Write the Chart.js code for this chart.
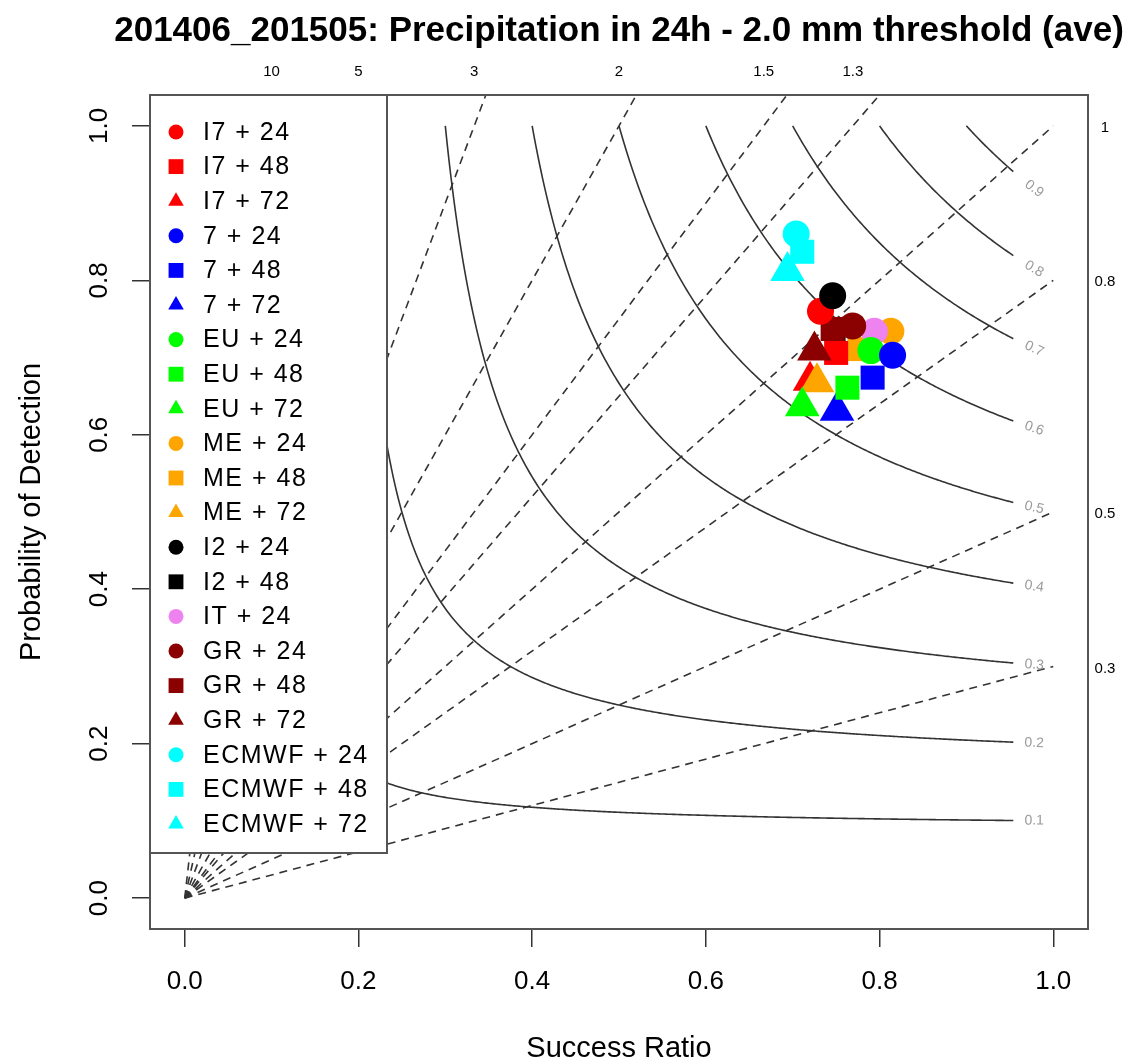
<!DOCTYPE html>
<html>
<head>
<meta charset="utf-8">
<script src="https://cdn.jsdelivr.net/npm/chart.js@4.4.1/dist/chart.umd.min.js"></script>
<style>
  body { margin: 0; background: #fff; }
  #wrap { width: 1127px; height: 1063px; position: relative; }
</style>
</head>
<body>
<div id="wrap"><canvas id="perfDiagram"></canvas></div>
<script>
// values
const seriesLabels = ['I7 + 24', 'I7 + 48', 'I7 + 72', '7 + 24', '7 + 48', '7 + 72',
  'EU + 24', 'EU + 48', 'EU + 72', 'ME + 24', 'ME + 48', 'ME + 72',
  'I2 + 24', 'I2 + 48', 'IT + 24', 'GR + 24', 'GR + 48', 'GR + 72',
  'ECMWF + 24', 'ECMWF + 48', 'ECMWF + 72'];
const seriesModel = ['I7', 'I7', 'I7', '7', '7', '7', 'EU', 'EU', 'EU', 'ME', 'ME', 'ME',
  'I2', 'I2', 'IT', 'GR', 'GR', 'GR', 'ECMWF', 'ECMWF', 'ECMWF'];
const seriesLead = [24, 48, 72, 24, 48, 72, 24, 48, 72, 24, 48, 72, 24, 48, 24, 24, 48, 72, 24, 48, 72];
const successRatio = [0.732, 0.750, 0.720, 0.815, 0.792, 0.751, 0.790, 0.763, 0.711, 0.813, 0.777, 0.728,
  0.746, 0.747, 0.794, 0.769, 0.746, 0.725, 0.704, 0.711, 0.694];
const probDetection = [0.760, 0.706, 0.670, 0.703, 0.674, 0.631, 0.709, 0.661, 0.637, 0.734, 0.711, 0.668,
  0.780, 0.737, 0.734, 0.741, 0.737, 0.709, 0.860, 0.837, 0.812];

const csiLevels = [0.1, 0.2, 0.3, 0.4, 0.5, 0.6, 0.7, 0.8, 0.9];
const biasLevels = [0.3, 0.5, 0.8, 1, 1.3, 1.5, 2, 3, 5, 10];
const biasTopLabels = ['10', '5', '3', '2', '1.5', '1.3'];
const biasRightLabels = ['1', '0.8', '0.5', '0.3'];
const axisTicks = [0, 0.2, 0.4, 0.6, 0.8, 1.0];

const titleText = '201406_201505: Precipitation in 24h - 2.0 mm threshold (ave)';

// styles
const modelColors = { I7: '#ff0000', '7': '#0000ff', EU: '#00ff00', ME: '#ffa500',
  I2: '#000000', IT: '#ee82ee', GR: '#8b0000', ECMWF: '#00ffff' };
const leadShape = { 24: 'circle', 48: 'rect', 72: 'triangle' };
const shapeRadius = { circle: 13.5, rect: 17, triangle: 20 };
const legendRadius = { circle: 7.5, rect: 10.5, triangle: 9 };
// bottom to top
const stackOrder = ['I7 + 72', 'ME + 72', 'EU + 72', '7 + 72', 'ME + 48', 'EU + 48', '7 + 48',
  'I7 + 48', 'I2 + 48', 'GR + 48', 'I7 + 24', 'I2 + 24', 'ME + 24', 'IT + 24', 'EU + 24',
  '7 + 24', 'GR + 72', 'GR + 24', 'ECMWF + 72', 'ECMWF + 48', 'ECMWF + 24'];

const FONT = '"Liberation Sans", Arial, sans-serif';

// CSI isolines: pod = 1 / (1/csi + 1 - 1/sr)
function csiCurve(c) {
  const pts = [];
  for (let sr = c; sr <= 0.9551; sr += 0.002) {
    pts.push({ x: sr, y: 1 / (1 / c + 1 - 1 / sr) });
  }
  return pts;
}

const datasets = [];
csiLevels.forEach(c => {
  datasets.push({
    data: csiCurve(c), showLine: true, pointRadius: 0, borderColor: '#333',
    borderWidth: 1.6, tension: 0, order: 1000
  });
});
biasLevels.forEach(b => {
  const end = Math.min(1, 1.04 / b);
  datasets.push({
    data: [{ x: 0, y: 0 }, { x: end, y: b * end }], showLine: true, pointRadius: 0,
    borderColor: '#333', borderWidth: 1.6, borderDash: [8, 6], order: 900
  });
});
seriesLabels.forEach((lab, i) => {
  const shape = leadShape[seriesLead[i]];
  datasets.push({
    label: lab,
    data: [{ x: successRatio[i], y: probDetection[i] }],
    pointStyle: shape,
    pointRadius: shapeRadius[shape],
    pointHoverRadius: shapeRadius[shape],
    backgroundColor: modelColors[seriesModel[i]],
    borderWidth: 0,
    order: 100 - stackOrder.indexOf(lab)
  });
});

function drawShape(ctx, shape, x, y, r) {
  ctx.beginPath();
  if (shape === 'circle') {
    ctx.arc(x, y, r, 0, Math.PI * 2);
  } else if (shape === 'rect') {
    const s = r * Math.SQRT1_2;
    ctx.rect(x - s, y - s, 2 * s, 2 * s);
  } else {
    for (let k = 0; k < 3; k++) {
      const a = k * 2 * Math.PI / 3;
      const px = x + Math.sin(a) * r, py = y - Math.cos(a) * r;
      if (k === 0) ctx.moveTo(px, py); else ctx.lineTo(px, py);
    }
    ctx.closePath();
  }
  ctx.fill();
}

const decorPlugin = {
  id: 'decor',
  afterDraw(chart) {
    const { ctx, chartArea: a, scales: { x, y } } = chart;
    ctx.save();

    // title
    ctx.fillStyle = '#000';
    ctx.font = 'bold 35px ' + FONT;
    ctx.textAlign = 'center';
    ctx.textBaseline = 'middle';
    ctx.fillText(titleText, (a.left + a.right) / 2, 31);

    // bias labels along top and right
    ctx.font = '15px ' + FONT;
    biasTopLabels.forEach(t => {
      ctx.fillText(t, x.getPixelForValue(1 / parseFloat(t)), 72);
    });
    biasRightLabels.forEach(t => {
      ctx.fillText(t, a.right + 17, y.getPixelForValue(parseFloat(t)) + 2);
    });

    // csi labels at the end of each curve
    ctx.fillStyle = '#9a9a9a';
    ctx.font = '14px ' + FONT;
    csiLevels.forEach(c => {
      const sr = 0.978;
      const pod = 1 / (1 / c + 1 - 1 / sr);
      const pod2 = 1 / (1 / c + 1 - 1 / (sr + 0.01));
      const px = x.getPixelForValue(sr), py = y.getPixelForValue(pod);
      const ang = Math.atan2(y.getPixelForValue(pod2) - py, x.getPixelForValue(sr + 0.01) - px);
      ctx.save();
      ctx.translate(px, py);
      ctx.rotate(ang);
      ctx.fillText(String(c), 0, 0);
      ctx.restore();
    });

    // frame
    ctx.strokeStyle = '#555';
    ctx.lineWidth = 2;
    ctx.strokeRect(a.left, a.top, a.right - a.left, a.bottom - a.top);

    // legend
    const lx = a.left, ly = a.top, lw = 237, lh = 758;
    ctx.fillStyle = '#fff';
    ctx.fillRect(lx, ly, lw, lh);
    ctx.strokeRect(lx, ly, lw, lh);
    ctx.font = '25px ' + FONT;
    ctx.letterSpacing = '1.5px';
    ctx.textAlign = 'left';
    seriesLabels.forEach((lab, i) => {
      const ry = ly + 37 + i * 34.6;
      const shape = leadShape[seriesLead[i]];
      ctx.fillStyle = modelColors[seriesModel[i]];
      drawShape(ctx, shape, lx + 26, ry, legendRadius[shape]);
      ctx.fillStyle = '#000';
      ctx.fillText(lab, lx + 53, ry + 1);
    });
    ctx.letterSpacing = '0px';
    ctx.restore();
  }
};

const perfChart = new Chart(document.getElementById('perfDiagram'), {
  type: 'scatter',
  data: { datasets: datasets },
  options: {
    animation: false,
    responsive: true,
    maintainAspectRatio: false,
    layout: { padding: { top: 95, right: 39, left: 0, bottom: 0 } },
    plugins: { legend: { display: false }, tooltip: { enabled: false } },
    scales: {
      x: {
        type: 'linear', min: -0.04, max: 1.04,
        afterFit: s => { s.height = 134; },
        afterBuildTicks: s => { s.ticks = axisTicks.map(v => ({ value: v })); },
        grid: { drawOnChartArea: false, tickLength: 18, tickColor: '#333', lineWidth: 1.5 },
        border: { display: true, color: '#555', width: 2 },
        ticks: { padding: 19, color: '#000', font: { family: FONT, size: 26 },
          callback: v => v.toFixed(1), maxRotation: 0 },
        title: { display: true, text: 'Success Ratio', color: '#000',
          font: { family: FONT, size: 29, lineHeight: 1 }, padding: { top: 0, bottom: 0 } }
      },
      y: {
        type: 'linear', min: -0.04, max: 1.04,
        afterFit: s => { s.width = 150; },
        afterBuildTicks: s => { s.ticks = axisTicks.map(v => ({ value: v })); },
        grid: { drawOnChartArea: false, tickLength: 18, tickColor: '#333', lineWidth: 1.5 },
        border: { display: true, color: '#555', width: 2 },
        ticks: { padding: 14, color: '#000', font: { family: FONT, size: 26 },
          minRotation: 90, maxRotation: 90, crossAlign: 'center',
          callback: v => v.toFixed(1) },
        title: { display: true, text: 'Probability of Detection', color: '#000',
          font: { family: FONT, size: 29, lineHeight: 1 }, padding: { top: 17, bottom: 0 } }
      }
    }
  },
  plugins: [decorPlugin]
});
</script>
</body>
</html>
